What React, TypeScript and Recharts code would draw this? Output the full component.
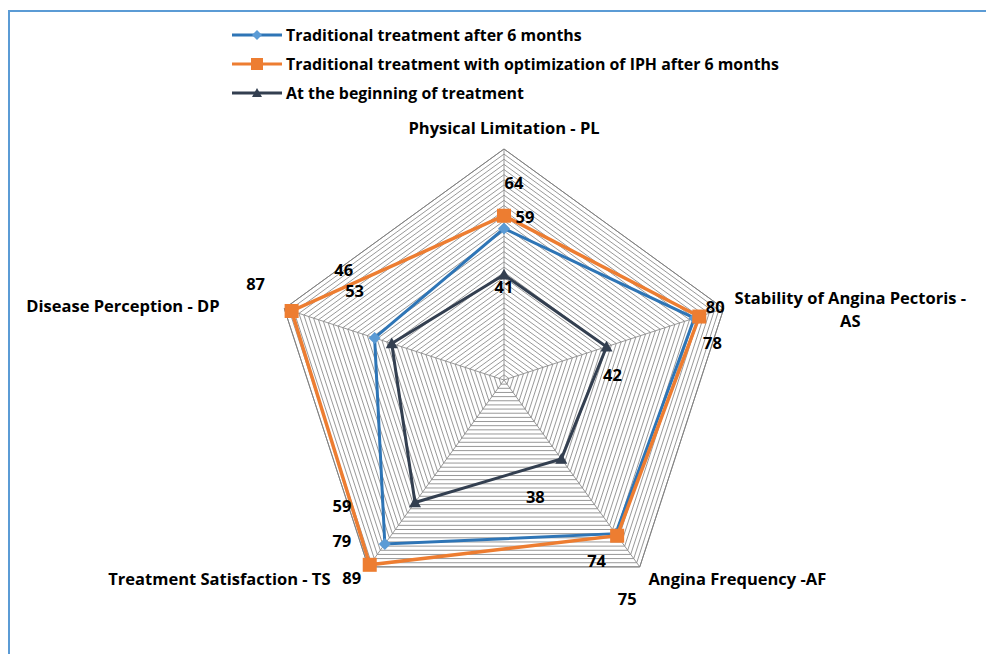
import { Legend, PolarAngleAxis, PolarGrid, PolarRadiusAxis, Radar, RadarChart } from "recharts";

const axes = [
  "Physical Limitation - PL",
  "Stability of Angina Pectoris - AS",
  "Angina Frequency -AF",
  "Treatment Satisfaction - TS",
  "Disease Perception - DP",
];

const after6Months = [59, 78, 74, 79, 53];
const withIph = [64, 80, 75, 89, 87];
const atStart = [41, 42, 38, 59, 46];

const seriesNames = [
  "Traditional treatment after 6 months",
  "Traditional treatment with optimization of IPH after 6 months",
  "At the beginning of treatment",
];

const gridValues = Array.from({ length: 46 }, (_, i) => i * 2);

const data = axes.map((axis, i) => ({
  axis,
  after: after6Months[i],
  iph: withIph[i],
  start: atStart[i],
}));

const BLUE = "#2E75B6";
const BLUE_MARK = "#5B9BD5";
const ORANGE = "#ED7D31";
const NAVY = "#333F50";
const FONT = "'Open Sans', 'DejaVu Sans', sans-serif";

// label nudges per axis, Excel puts them wherever they fit
const afterOffsets: [number, number][] = [[21, -12], [18, 24], [-19, 27], [-43, -4], [-20, -47]];
const iphOffsets: [number, number][] = [[10, -33], [16, -10], [10, 63], [-18, 13], [-36, -27]];
const startOffsets: [number, number][] = [[0, 12], [6, 28], [-26, 38], [-73, 3], [-48, -74]];

function valueLabel(offsets: [number, number][]) {
  return (p: any) => {
    const x = p.x ?? p.viewBox?.x;
    const y = p.y ?? p.viewBox?.y;
    const [dx, dy] = offsets[p.index] ?? [0, 0];
    return (
      <text
        key={`lbl-${p.index}`}
        x={x + dx}
        y={y + dy}
        textAnchor="middle"
        dominantBaseline="central"
        fontFamily={FONT}
        fontWeight={700}
        fontSize={16.5}
        fill="#000"
      >
        {p.value}
      </text>
    );
  };
}

function Diamond({ cx, cy, fill, size = 6 }: any) {
  return <path d={`M${cx},${cy - size}L${cx + size},${cy}L${cx},${cy + size}L${cx - size},${cy}Z`} fill={fill} />;
}

function Square({ cx, cy, fill, size = 7 }: any) {
  return <rect x={cx - size} y={cy - size} width={size * 2} height={size * 2} fill={fill} />;
}

function Triangle({ cx, cy, fill, size = 6 }: any) {
  return <path d={`M${cx},${cy - size}L${cx + size},${cy + size * 0.8}L${cx - size},${cy + size * 0.8}Z`} fill={fill} />;
}

const tickLayout = [
  { dx: 0, dy: -14, anchor: "middle", lines: ["Physical Limitation - PL"] },
  { dx: 119, dy: -9, anchor: "middle", lines: ["Stability of Angina Pectoris -", "AS"] },
  { dx: 4, dy: 5, anchor: "start", lines: ["Angina Frequency -AF"] },
  { dx: -33, dy: 5, anchor: "end", lines: ["Treatment Satisfaction - TS"] },
  { dx: -57, dy: -1, anchor: "end", lines: ["Disease Perception - DP"] },
];

function AxisTick({ x, y, payload }: any) {
  const t = tickLayout[payload.index] ?? tickLayout[0];
  return (
    <text
      x={x + t.dx}
      y={y + t.dy}
      textAnchor={t.anchor}
      dominantBaseline="central"
      fontFamily={FONT}
      fontWeight={700}
      fontSize={16.5}
      fill="#000"
    >
      {t.lines.map((line, i) => (
        <tspan key={line} x={x + t.dx} dy={i === 0 ? 0 : 23}>
          {line}
        </tspan>
      ))}
    </text>
  );
}

function LegendBox() {
  const icons = [
    (cx: number, cy: number) => <Diamond cx={cx} cy={cy} fill={BLUE_MARK} size={5} />,
    (cx: number, cy: number) => <Square cx={cx} cy={cy} fill={ORANGE} size={6} />,
    (cx: number, cy: number) => <Triangle cx={cx} cy={cy} fill={NAVY} size={5} />,
  ];
  const colors = [BLUE, ORANGE, NAVY];
  return (
    <div style={{ fontFamily: FONT, fontWeight: 700, fontSize: 15.9, color: "#000" }}>
      {seriesNames.map((name, i) => (
        <div key={name} style={{ display: "flex", alignItems: "center", height: 29 }}>
          <svg width={52} height={16} style={{ marginRight: 2 }}>
            <line x1={0} y1={8} x2={50} y2={8} stroke={colors[i]} strokeWidth={3} />
            {icons[i](25, 8)}
          </svg>
          <span>{name}</span>
        </div>
      ))}
    </div>
  );
}

export default function App() {
  return (
    <div style={{ position: "fixed", left: 0, top: 0, width: 986, height: 654, background: "#fff" }}>
      <div
        style={{
          position: "absolute",
          left: 8,
          top: 10,
          right: -10,
          bottom: -10,
          borderTop: "2px solid #5B9BD5",
          borderLeft: "2px solid #5B9BD5",
        }}
      />
      <RadarChart
        width={986}
        height={654}
        data={data}
        cx={504}
        cy={380}
        outerRadius={231}
        margin={{ top: 0, right: 0, bottom: 0, left: 0 }}
        style={{ position: "absolute", left: 0, top: 0 }}
      >
        <PolarGrid stroke="#8c8c8c" strokeWidth={0.9} />
        <PolarRadiusAxis domain={[0, 90]} ticks={gridValues as any} tick={false} axisLine={false} />
        <PolarAngleAxis dataKey="axis" tick={<AxisTick />} tickLine={false} axisLine={{ stroke: "#808080" }} />
        <Radar
          name={seriesNames[0]}
          dataKey="after"
          stroke={BLUE}
          strokeWidth={3}
          fill="none"
          fillOpacity={0}
          dot={(p: any) => <Diamond key={`d-${p.index}`} cx={p.cx} cy={p.cy} fill={BLUE_MARK} size={6} />}
          label={valueLabel(afterOffsets)}
          isAnimationActive={false}
        />
        <Radar
          name={seriesNames[1]}
          dataKey="iph"
          stroke={ORANGE}
          strokeWidth={3.5}
          fill="none"
          fillOpacity={0}
          dot={(p: any) => <Square key={`s-${p.index}`} cx={p.cx} cy={p.cy} fill={ORANGE} size={7} />}
          label={valueLabel(iphOffsets)}
          isAnimationActive={false}
        />
        <Radar
          name={seriesNames[2]}
          dataKey="start"
          stroke={NAVY}
          strokeWidth={3}
          fill="none"
          fillOpacity={0}
          dot={(p: any) => <Triangle key={`t-${p.index}`} cx={p.cx} cy={p.cy} fill={NAVY} size={6} />}
          label={valueLabel(startOffsets)}
          isAnimationActive={false}
        />
        <Legend
          content={<LegendBox />}
          layout="vertical"
          verticalAlign="top"
          align="left"
          wrapperStyle={{ position: "absolute", left: 232, top: 20, width: 700 }}
        />
      </RadarChart>
    </div>
  );
}
